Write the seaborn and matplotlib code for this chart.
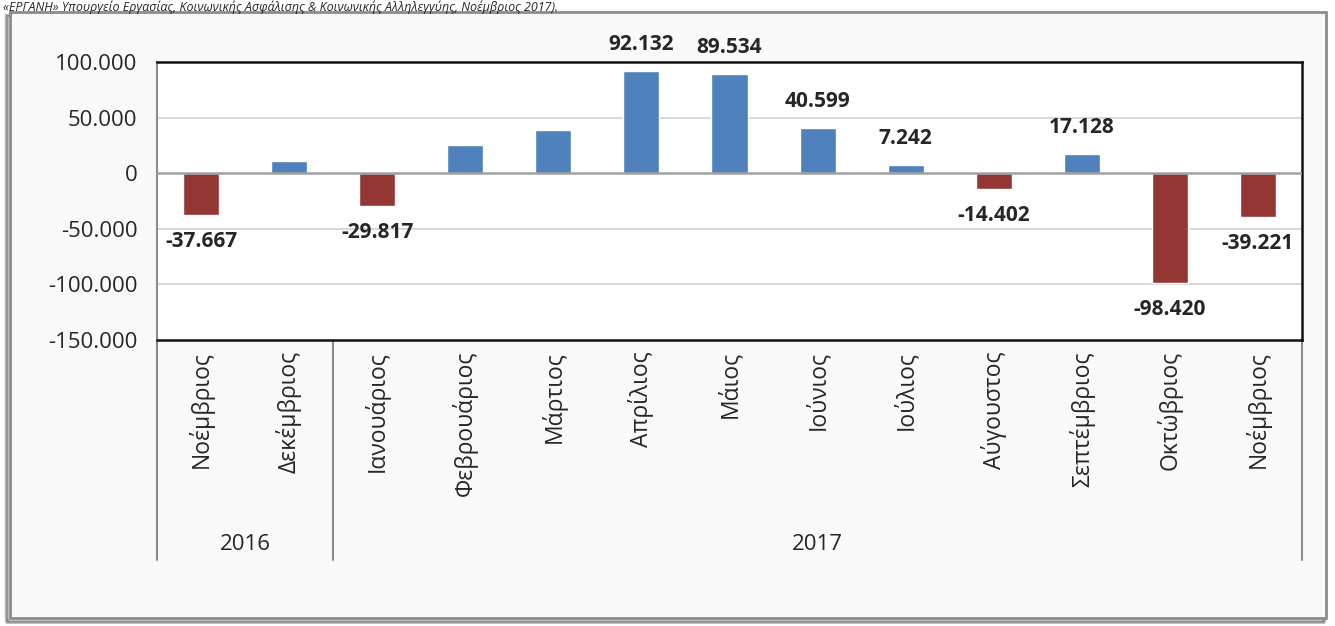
import matplotlib
matplotlib.use("Agg")
import matplotlib.pyplot as plt
from matplotlib.patches import Rectangle
import matplotlib.transforms as mtransforms
import pandas as pd
import seaborn as sns

# monthly balance of hirings - departures (ΕΡΓΑΝΗ)
months = ["Νοέμβριος", "Δεκέμβριος", "Ιανουάριος", "Φεβρουάριος", "Μάρτιος", "Απρίλιος",
          "Μάιος", "Ιούνιος", "Ιούλιος", "Αύγουστος", "Σεπτέμβριος", "Οκτώβριος", "Νοέμβριος"]
years = ["2016", "2016", "2017", "2017", "2017", "2017", "2017",
         "2017", "2017", "2017", "2017", "2017", "2017"]
values = [-37667, 10800, -29817, 25100, 38700, 92132, 89534,
          40599, 7242, -14402, 17128, -98420, -39221]
labelled = [True, False, True, False, False, True, True,
            True, True, True, True, True, True]
source_note = "«ΕΡΓΑΝΗ» Υπουργείο Εργασίας, Κοινωνικής Ασφάλισης & Κοινωνικής Αλληλεγγύης, Νοέμβριος 2017)."

df = pd.DataFrame({"key": [f"{y}-{i}" for i, y in enumerate(years)],
                   "month": months, "year": years, "value": values})
df["sign"] = ["pos" if v >= 0 else "neg" for v in values]

sns.set_style("white")
plt.rcParams["font.family"] = ["Open Sans", "DejaVu Sans"]

W, H = 1335, 626
fig = plt.figure(figsize=(W / 100, H / 100), dpi=100)
fig.patch.set_facecolor("white")

# chart frame with a soft shadow (drawn behind the axes)
for k, a in enumerate([0.10, 0.18, 0.28]):
    fig.patches.append(Rectangle(((8 - 3 + k) / W, (6 - k) / H), (1320 - 2 * k) / W, 606 / H,
                                 transform=fig.transFigure, facecolor="none",
                                 edgecolor=(0, 0, 0, a), lw=2, zorder=-2))
fig.patches.append(Rectangle((10 / W, 8 / H), 1316 / W, 606 / H, transform=fig.transFigure,
                             facecolor="#F9F9F9", edgecolor="#8C8C8C", lw=2, zorder=-1))

fig.text(0.002, 0.999, source_note, ha="left", va="top", fontsize=9, style="italic")

ax = fig.add_axes([157 / W, 1 - 340 / H, (1302 - 157) / W, (340 - 62) / H])
ax.set_facecolor("white")

sns.barplot(data=df, x="key", y="value", hue="sign", order=list(df["key"]),
            palette={"pos": "#4F81BD", "neg": "#943634"}, dodge=False, width=0.41,
            saturation=1, legend=False, ax=ax, zorder=3)

ticks = [100000, 50000, 0, -50000, -100000, -150000]
ax.set_ylim(-150000, 100000)
ax.set_xlim(-0.5, len(months) - 0.5)
ax.set_yticks(ticks)
ax.set_yticklabels([f"{t:,}".replace(",", ".") for t in ticks], fontsize=16)
ax.set_xticks(range(len(months)))
ax.set_xticklabels(months, rotation=90, fontsize=16.5)
ax.tick_params(axis="y", length=0, pad=14)
ax.tick_params(axis="x", length=0, pad=8)
ax.set_xlabel("")
ax.set_ylabel("")

for yv in [50000, -50000, -100000]:
    ax.axhline(yv, color="#D9D9D9", lw=1.5, zorder=1)
ax.axhline(0, color="#A0A0A0", lw=1.8, zorder=4)

for s in ["top", "right", "bottom"]:
    ax.spines[s].set_color("#111111")
    ax.spines[s].set_linewidth(1.8)
ax.spines["left"].set_color("#8C8C8C")
ax.spines["left"].set_linewidth(1.5)

for i, (v, show) in enumerate(zip(values, labelled)):
    if show:
        ax.annotate(f"{v:,}".replace(",", "."), (i, v), xytext=(0, 19 if v > 0 else -19),
                    textcoords="offset points", ha="center", va="center",
                    fontsize=15, fontweight="bold")

# multi-level category axis: year groups and separators
trans = mtransforms.blended_transform_factory(ax.transData, ax.transAxes)
y_low = (340 - 560) / (340 - 62)
for xs in [-0.5, 1.5, len(months) - 0.5]:
    ax.plot([xs, xs], [0, y_low], transform=trans, color="#8C8C8C", lw=1.5, clip_on=False)
groups = {}
for i, y in enumerate(years):
    groups.setdefault(y, []).append(i)
for y, idx in groups.items():
    ax.text((idx[0] + idx[-1]) / 2, (340 - 545) / (340 - 62), y, transform=trans,
            ha="center", va="center", fontsize=16)

fig.savefig("out.png", dpi=100)
